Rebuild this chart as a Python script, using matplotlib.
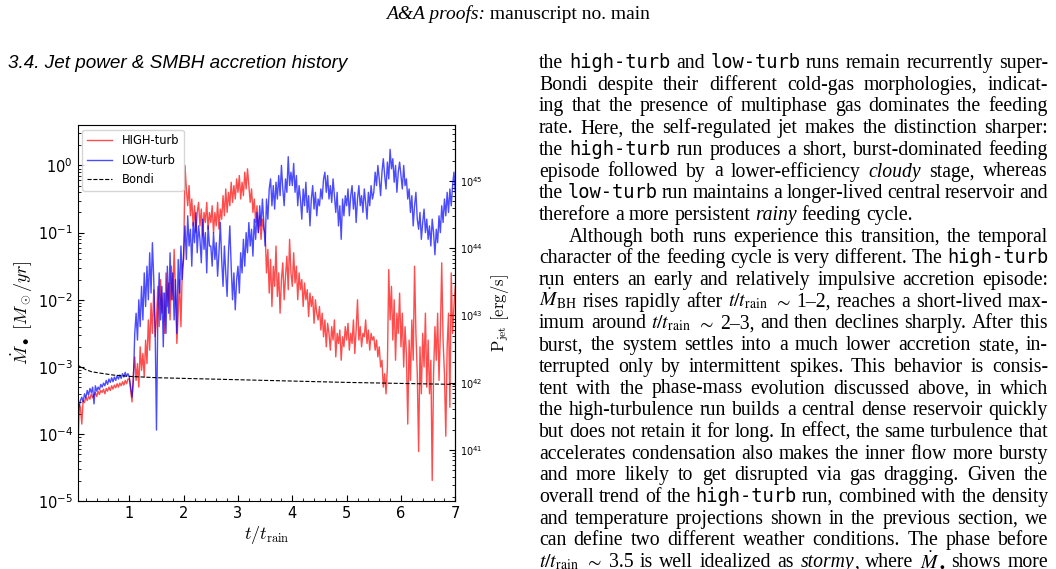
import re
import numpy as np
import matplotlib
matplotlib.use("Agg")
import matplotlib.pyplot as plt
from matplotlib.ticker import AutoMinorLocator

# accretion rate histories, log10(Mdot / Msun yr^-1), sampled every 0.025 t_rain from t=0.05
t_start, t_step = 0.05, 0.025

high_turb_log = [
    -3.9, -3.55, -3.6, -3.85, -3.5, -3.53, -3.45, -3.5, -3.44, -3.48, -3.4, -3.46, -3.42, -3.38, -3.44, -3.36, -3.41, -3.35,
    -3.38, -3.33, -3.4, -3.32, -3.36, -3.3, -3.35, -3.28, -3.33, -3.27, -3.31, -3.25, -3.3, -3.24, -3.28, -3.22, -3.27, -3.2, -3.25, -3.18,
    -3.18, -3.35, -3.52, -3.1, -2.85, -3.2, -2.95, -3.3, -2.7, -3.05, -2.8, -3.15, -2.6, -2.95, -2.3, -2.75, -2.05, -2.5, -1.85, -2.55,
    -2.3, -1.8, -2.4, -1.7, -2.2, -1.9, -2.5, -1.6, -2.1, -1.75, -2.3, -1.5, -2.0, -1.25, -1.9, -2.65, -2.2, -1.7, -2.4, -1.55,
    -1.4, -0.0, -0.35, -0.6, -0.3, -0.75, -0.5, -0.9, -0.6, -1.0, -0.7, -0.55, -0.9, -0.65, -1.05, -0.7, -0.85, -0.55, -0.95, -0.7,
    -0.85, -0.6, -1.0, -0.7, -0.9, -0.55, -0.95, -0.65, -0.8, -0.45, -0.75, -0.35, -0.7, -0.4, -0.6, -0.25, -0.55, -0.3, -0.5, -0.2,
    -0.4, -0.15, -0.5, -0.25, -0.45, -0.1, -0.35, -0.05, -0.3, -0.55, -0.35, -0.7, -0.5, -0.85, -0.6, -1.0, -0.75, -1.1, -0.8, -0.95,
    -1.0, -1.6, -1.25, -1.9, -1.4, -2.1, -1.5, -1.8, -1.2, -1.95, -1.6, -2.2, -1.7, -1.45, -2.0, -1.65, -1.35, -1.85, -1.1, -1.6,
    -1.8, -1.3, -1.75, -1.5, -2.0, -1.6, -1.85, -1.7, -2.1, -1.75, -2.0, -1.85, -2.25, -1.9, -2.1, -1.95, -2.35, -2.0, -2.2, -2.3,
    -2.1, -2.45, -2.2, -2.55, -2.3, -2.7, -2.35, -2.5, -2.75, -2.4, -2.6, -2.3, -2.85, -2.5, -2.65, -2.45, -2.9, -2.55, -2.7, -2.4,
    -2.6, -2.35, -2.75, -2.5, -2.65, -2.3, -2.8, -2.45, -2.0, -2.6, -2.4, -2.7, -2.5, -2.55, -2.3, -2.65, -2.45, -2.75, -2.5, -2.6,
    -2.55, -2.75, -2.6, -2.85, -2.7, -3.0, -2.9, -3.3, -3.1, -3.4, -3.0, -1.55, -2.3, -1.8, -2.6, -2.0, -2.9, -2.2, -2.5, -1.9,
    -2.7, -2.2, -3.0, -2.4, -2.8, -3.85, -2.6, -3.2, -2.3, -2.9, -1.5, -2.5, -3.1, -4.26, -2.7, -3.4, -2.5, -3.0, -2.2, -3.3,
    -2.6, -3.4, -2.9, -4.69, -3.1, -2.4, -2.9, -2.2, -3.2, -2.5, -1.45, -2.6, -3.1, -4.03, -2.7, -2.2, -3.6, -1.6, -2.5, -2.1, -1.8,
]

low_turb_log = [
    -4.4, -3.6, -3.5, -3.45, -3.52, -3.4, -3.46, -3.35, -3.42, -3.32, -3.38, -3.3, -3.55, -3.28, -3.36, -3.3, -3.34, -3.26,
    -3.3, -3.24, -3.28, -3.2, -3.26, -3.18, -3.23, -3.16, -3.22, -3.15, -3.2, -3.13, -3.18, -3.12, -3.17, -3.1, -3.15, -3.08, -3.14, -3.1,
    -3.15, -3.3, -3.45, -3.2, -2.5, -2.2, -2.6, -2.0, -2.4, -1.8, -2.3, -1.6, -2.1, -1.5, -2.0, -1.3, -1.9, -1.15, -1.7, -2.4,
    -3.94, -2.2, -1.6, -2.3, -1.8, -2.7, -1.9, -2.5, -1.5, -2.2, -1.3, -2.0, -1.6, -2.3, -1.7, -2.5, -1.4, -1.9, -1.2, -1.7,
    -1.3, -0.9, -1.4, -0.75, -1.2, -0.95, -1.5, -0.85, -1.15, -0.7, -1.3, -0.9, -1.1, -1.45, -0.8, -1.25, -1.0, -1.6, -0.9, -1.2,
    -1.2, -1.5, -1.0, -1.4, -1.15, -1.65, -1.3, -0.85, -1.4, -1.8, -1.2, -1.6, -1.95, -1.3, -0.9, -1.5, -2.0, -1.6, -2.15, -1.7,
    -1.5, -1.9, -1.3, -1.6, -1.1, -1.5, -1.0, -1.3, -0.85, -1.2, -0.95, -1.35, -0.8, -1.1, -0.7, -1.0, -0.6, -0.9, -0.5, -0.85,
    -1.2, -0.5, -0.8, -0.35, -0.2, -0.6, -0.3, -0.65, -0.25, -0.5, -0.15, -0.45, 0.0, -0.35, -0.6, -0.2, -0.4, 0.13, -0.3, -0.1,
    -0.3, 0.03, -0.4, -0.15, -0.6, -0.3, -0.5, -0.8, -0.35, -0.6, -0.25, -0.7, -0.45, -0.9, -0.5, -0.3, -0.65, -0.4, -0.75, -0.5,
    -0.6, -0.35, -0.5, -0.2, -0.1, -0.4, -0.15, -0.5, -0.3, -0.55, -0.2, -0.45, -0.7, -0.4, -0.9, -0.6, -1.1, -0.5, -0.75, -0.45,
    -0.6, -0.35, -0.75, -0.45, -0.3, -0.65, -0.4, -0.85, -0.5, -0.3, -0.6, -0.45, -0.7, -0.35, -0.55, -0.8, -0.4, -0.6, -0.3, -0.5,
    -0.4, -0.1, -0.3, 0.0, -0.2, -0.45, -0.1, 0.1, -0.15, -0.35, 0.05, -0.2, 0.24, -0.05, 0.1, -0.25, 0.0, -0.4, -0.1, 0.05,
    -0.15, -0.35, 0.0, -0.3, -0.2, -0.5, -0.35, -0.7, -0.45, -0.9, -0.6, -0.4, -0.8, -0.95, -0.7, -1.1, -0.85, -0.65, -1.0, -0.8,
    -1.1, -0.9, -1.2, -0.8, -1.0, -1.33, -0.95, -1.15, -0.75, -1.0, -0.6, -0.85, -0.5, -0.75, -0.4, -0.7, -0.35, -0.6, -0.3, -0.1, -0.4,
]

bondi_t = [0.05, 0.1, 0.2, 0.3, 0.45, 0.7, 1.0, 1.5, 2.0, 3.0, 4.0, 5.0, 6.0, 7.0]
bondi_log = [-2.97, -3.0, -3.04, -3.07, -3.09, -3.12, -3.14, -3.16, -3.17, -3.19, -3.21, -3.23, -3.245, -3.26]

series_labels = ["HIGH-turb", "LOW-turb", "Bondi"]
x_ticks = [1, 2, 3, 4, 5, 6, 7]
jet_factor = 1.71e45   # erg/s per Msun/yr

header_italic = "A&A proofs:"
header_roman = "manuscript no. main"
section_title = "3.4. Jet power & SMBH accretion history"
body_lines = [
    "the {m:high-turb} and {m:low-turb} runs remain recurrently super-",
    "Bondi despite their different cold-gas morphologies, indicat-",
    "ing that the presence of multiphase gas dominates the feeding",
    "rate. Here, the self-regulated jet makes the distinction sharper:",
    "the {m:high-turb} run produces a short, burst-dominated feeding",
    "episode followed by a lower-efficiency {i:cloudy} stage, whereas",
    "the {m:low-turb} run maintains a longer-lived central reservoir and",
    "therefore a more persistent {i:rainy} feeding cycle.",
    "Although both runs experience this transition, the temporal",
    "character of the feeding cycle is very different. The {m:high-turb}",
    "run enters an early and relatively impulsive accretion episode:",
    "$\\dot{M}_{\\mathrm{BH}}$ rises rapidly after $t/t_{\\mathrm{rain}}$ $\\sim$ 1–2, reaches a short-lived max-",
    "imum around $t/t_{\\mathrm{rain}}$ $\\sim$ 2–3, and then declines sharply. After this",
    "burst, the system settles into a much lower accretion state, in-",
    "terrupted only by intermittent spikes. This behavior is consis-",
    "tent with the phase-mass evolution discussed above, in which",
    "the high-turbulence run builds a central dense reservoir quickly",
    "but does not retain it for long. In effect, the same turbulence that",
    "accelerates condensation also makes the inner flow more bursty",
    "and more likely to get disrupted via gas dragging. Given the",
    "overall trend of the {m:high-turb} run, combined with the density",
    "and temperature projections shown in the previous section, we",
    "can define two different weather conditions. The phase before",
    "$t/t_{\\mathrm{rain}}$ $\\sim$ 3.5 is well idealized as {i:stormy}, where $\\dot{M}_\\bullet$ shows more",
]
ragged_lines = [7]
indent_lines = [8]

plt.rcParams["mathtext.fontset"] = "cm"
W, H = 1056, 569
fig = plt.figure(figsize=(W / 100, H / 100), dpi=100)

# ---- chart ----
ax = fig.add_axes([77.7 / W, 1 - 501.3 / H, 377.6 / W, 376.3 / H])
t = t_start + t_step * np.arange(len(high_turb_log))
ax.plot(t, 10 ** np.array(high_turb_log), color="red", alpha=0.7, lw=1.0, label=series_labels[0])
ax.plot(t, 10 ** np.array(low_turb_log), color="blue", alpha=0.7, lw=1.0, label=series_labels[1])
ax.plot(bondi_t, 10 ** np.array(bondi_log), "k--", lw=0.8, label=series_labels[2])
ax.set_yscale("log")
ax.set_xlim(0.05, 7)
ax.set_ylim(1e-5, 4)
ax.set_xticks(x_ticks)
ax.xaxis.set_minor_locator(AutoMinorLocator(5))
ax.tick_params(which="both", direction="in", labelsize=10.5, top=False, right=False)
ax.tick_params(which="major", length=4)
ax.tick_params(which="minor", length=2)
ax.set_xlabel(r"$t/t_{\rm rain}$", fontsize=13, labelpad=2)
ax.set_ylabel(r"$\dot{M}_\bullet\ [M_\odot/yr]$", fontsize=13, labelpad=2)
ax.legend(loc="upper left", fontsize=8.3, handlelength=2.2, borderaxespad=0.4,
          labelspacing=0.55)

sec = ax.secondary_yaxis("right", functions=(lambda m: m * jet_factor, lambda p: p / jet_factor))
sec.tick_params(which="both", direction="in", labelsize=7)
sec.tick_params(which="major", length=4)
sec.tick_params(which="minor", length=2)
sec.set_ylabel(r"$\rm P_{jet}\ [erg/s]$", fontsize=12, labelpad=4)

# ---- page text ----
fig.canvas.draw()
rend = fig.canvas.get_renderer()
BODY = 14.2
SERIF = "Liberation Serif"
seg_re = re.compile(r"\$[^$]*\$|\{[mi]:[^}]*\}|[^${]+")


def make_seg(s, size):
    kw = dict(family=SERIF, fontsize=size, va="baseline", ha="left")
    if s.startswith("{m:"):
        kw.update(family="DejaVu Sans Mono", fontsize=size * 0.95)
        s = s[3:-1]
    elif s.startswith("{i:"):
        kw.update(style="italic")
        s = s[3:-1]
    elif s.startswith("$"):
        kw.update(math_fontfamily="stix")
    return fig.text(0, 0, s, **kw)


def place(x, y, texts):
    for tx in texts:
        tx.set_position((x / W, 1 - y / H))
        x += tx.get_window_extent(rend).width
    return x


def width(texts):
    return sum(tx.get_window_extent(rend).width for tx in texts)


# header
hdr = [fig.text(0, 0, header_italic, family=SERIF, style="italic", fontsize=14, va="baseline"),
       fig.text(0, 0, " " + header_roman, family=SERIF, fontsize=14, va="baseline")]
place(518 - width(hdr) / 2, 19, hdr)

fig.text(8 / W, 1 - 68 / H, section_title, family="Liberation Sans", style="italic",
         fontsize=13.6, va="baseline")

col_left, col_right = 539, 1048
space = BODY * 100 / 72 * 0.25
for i, line in enumerate(body_lines):
    words = [[make_seg(s, BODY) for s in seg_re.findall(w)] for w in line.split(" ")]
    widths = [width(w) for w in words]
    x0 = col_left + (30 if i in indent_lines else 0)
    if i in ragged_lines or len(words) < 2:
        gap = space
    else:
        gap = (col_right - x0 - sum(widths)) / (len(words) - 1)
    y = 68 + 21.7 * i
    x = x0
    for w, wd in zip(words, widths):
        place(x, y, w)
        x += wd + gap

fig.savefig("out.png", dpi=100)
